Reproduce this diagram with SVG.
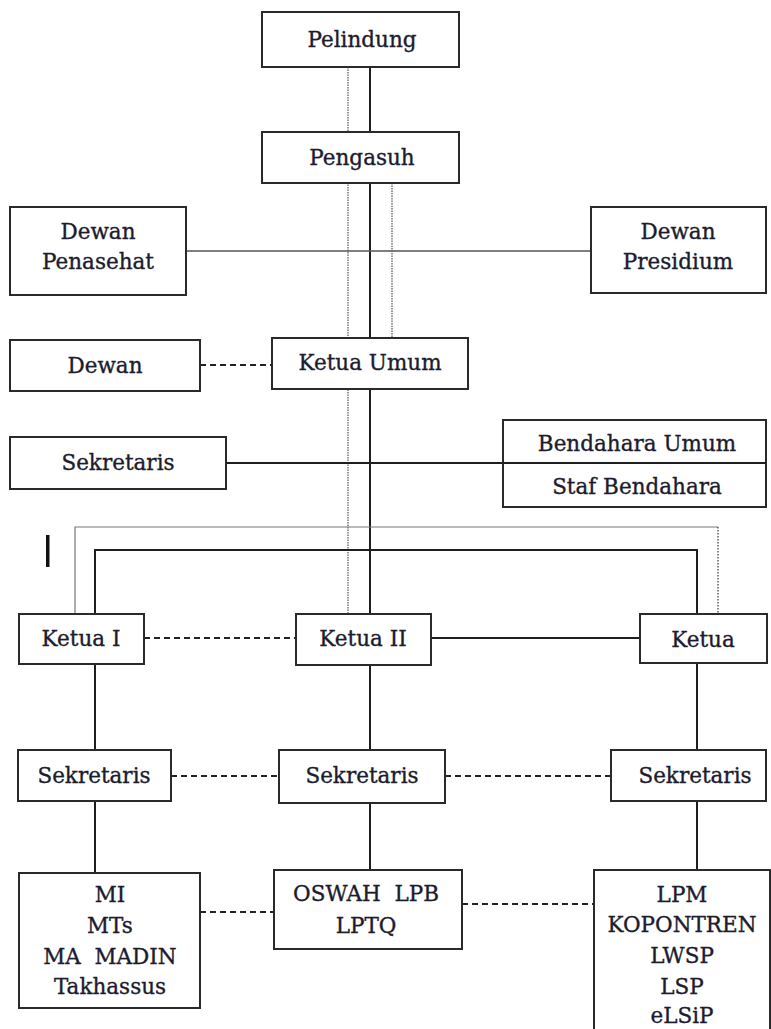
<svg xmlns="http://www.w3.org/2000/svg" width="771" height="1029" viewBox="0 0 771 1029">
<style>
.box{fill:#fff;stroke:#2a2a2a;stroke-width:2}
.t{font-family:"DejaVu Serif","Liberation Serif",serif;font-size:21.5px;fill:#1c1c2e;stroke:#1c1c2e;stroke-width:0.35;text-anchor:middle;dominant-baseline:central;white-space:pre}
.solid{stroke:#1e1e1e;stroke-width:2;fill:none}
.thin{stroke:#777;stroke-width:1.2;fill:none}
.mid{stroke:#555;stroke-width:1.3;fill:none}
.dash{stroke:#222;stroke-width:2;stroke-dasharray:6 4;fill:none}
.dot{stroke:#999;stroke-width:2;stroke-dasharray:1.5 1;fill:none}
.dot2{stroke:#333;stroke-width:1.2;stroke-dasharray:1.5 1.5;fill:none}
</style>
<g id="connectors">
<line class="dot" x1="348" y1="67" x2="348" y2="614"/>
<line class="solid" x1="370" y1="67" x2="370" y2="614"/>
<line class="dot" x1="392" y1="183" x2="392" y2="338"/>
<line class="mid" x1="186" y1="251" x2="594" y2="251"/>
<line class="dash" x1="200" y1="365" x2="272" y2="365"/>
<line class="solid" x1="226" y1="463" x2="766" y2="463"/>
<polyline class="thin" points="75,614 75,527 718,527"/>
<line class="dot2" x1="718" y1="527" x2="718" y2="617"/>
<polyline class="solid" points="95,614 95,550 697,550 697,614"/>
<line class="dash" x1="144" y1="638" x2="296" y2="638"/>
<line class="solid" x1="431" y1="638" x2="640" y2="638"/>
<line class="solid" x1="95" y1="664" x2="95" y2="750"/>
<line class="solid" x1="370" y1="665" x2="370" y2="750"/>
<line class="solid" x1="697" y1="663" x2="697" y2="750"/>
<line class="dash" x1="171" y1="776" x2="279" y2="776"/>
<line class="dash" x1="445" y1="776" x2="611" y2="776"/>
<line class="solid" x1="95" y1="801" x2="95" y2="873"/>
<line class="solid" x1="370" y1="803" x2="370" y2="870"/>
<line class="solid" x1="697" y1="801" x2="697" y2="870"/>
<line class="dash" x1="200" y1="912" x2="274" y2="912"/>
<line class="dash" x1="462" y1="904" x2="594" y2="904"/>
</g>
<rect x="46" y="535" width="3.5" height="32" fill="#111"/>
<g id="pelindung"><rect class="box" x="262" y="12" width="197" height="55"/><text class="t" x="362" y="39">Pelindung</text></g>
<g id="pengasuh"><rect class="box" x="262" y="132" width="197" height="51"/><text class="t" x="362" y="157">Pengasuh</text></g>
<g id="dewan-penasehat"><rect class="box" x="10" y="207" width="176" height="88"/><text class="t" x="98" y="231">Dewan</text><text class="t" x="98" y="261">Penasehat</text></g>
<g id="dewan-presidium"><rect class="box" x="591" y="207" width="175" height="86"/><text class="t" x="678" y="231">Dewan</text><text class="t" x="678" y="261">Presidium</text></g>
<g id="dewan"><rect class="box" x="10" y="340" width="190" height="51"/><text class="t" x="105" y="365">Dewan</text></g>
<g id="ketua-umum"><rect class="box" x="272" y="338" width="196" height="51"/><text class="t" x="370" y="362">Ketua Umum</text></g>
<g id="sekretaris-umum"><rect class="box" x="10" y="437" width="216" height="52"/><text class="t" x="118" y="462">Sekretaris</text></g>
<g id="bendahara"><rect class="box" x="503" y="420" width="263" height="87"/><line class="solid" x1="503" y1="463" x2="766" y2="463"/><text class="t" x="637" y="443">Bendahara Umum</text><text class="t" x="637" y="486">Staf Bendahara</text></g>
<g id="ketua-1"><rect class="box" x="19" y="614" width="125" height="50"/><text class="t" x="81" y="638">Ketua I</text></g>
<g id="ketua-2"><rect class="box" x="296" y="614" width="135" height="51"/><text class="t" x="363" y="638">Ketua II</text></g>
<g id="ketua-3"><rect class="box" x="640" y="614" width="127" height="49"/><text class="t" x="703" y="639">Ketua</text></g>
<g id="sekretaris-1"><rect class="box" x="18" y="750" width="153" height="51"/><text class="t" x="94" y="775">Sekretaris</text></g>
<g id="sekretaris-2"><rect class="box" x="279" y="750" width="166" height="53"/><text class="t" x="362" y="775">Sekretaris</text></g>
<g id="sekretaris-3"><rect class="box" x="611" y="750" width="155" height="51"/><text class="t" x="695" y="775">Sekretaris</text></g>
<g id="unit-1"><rect class="box" x="19" y="873" width="181" height="135"/><text class="t" x="110" y="894">MI</text><text class="t" x="110" y="925">MTs</text><text class="t" x="110" y="956">MA  MADIN</text><text class="t" x="110" y="986">Takhassus</text></g>
<g id="unit-2"><rect class="box" x="274" y="870" width="188" height="79"/><text class="t" x="366" y="893">OSWAH  LPB</text><text class="t" x="366" y="925">LPTQ</text></g>
<g id="unit-3"><rect class="box" x="594" y="870" width="176" height="165"/><text class="t" x="682" y="894">LPM</text><text class="t" x="682" y="924">KOPONTREN</text><text class="t" x="682" y="955">LWSP</text><text class="t" x="682" y="986">LSP</text><text class="t" x="682" y="1015">eLSiP</text></g>
</svg>
